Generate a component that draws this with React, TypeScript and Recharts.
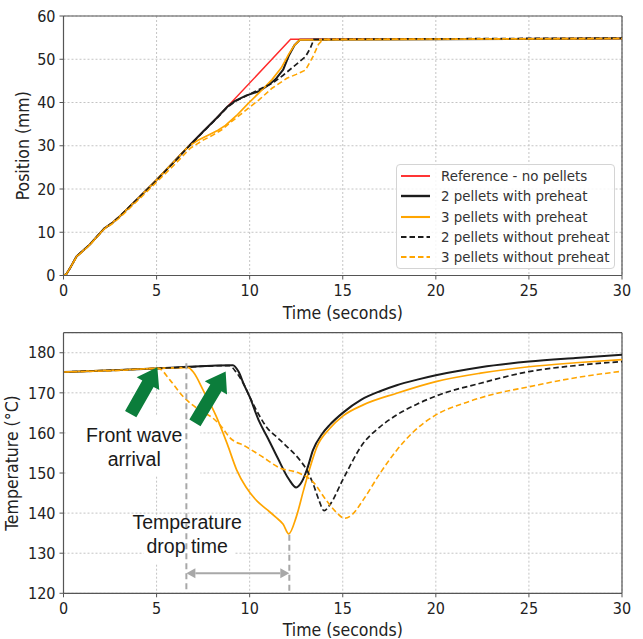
import React from "react";
import {
  LineChart,
  Line,
  XAxis,
  YAxis,
  CartesianGrid,
  ReferenceLine,
  ReferenceArea,
  ReferenceDot,
  Legend,
} from "recharts";

type Pt = { t: number; v: number };
const pts = (rows: number[][]): Pt[] => rows.map(([t, v]) => ({ t, v }));

// ---- ticks ----
const timeTicks = [0, 5, 10, 15, 20, 25, 30];
const posTicks = [0, 10, 20, 30, 40, 50, 60];
const tempTicks = [120, 130, 140, 150, 160, 170, 180];

// ---- position (mm) vs time (s) ----
const posReference = pts([
  [0, 0], [0.15, 0.3], [0.35, 1.7], [0.7, 4.4], [1.4, 7.1], [2.2, 10.9], [2.6, 12.1], [3, 13.6],
  [4, 17.8], [5, 22.1], [6, 26.6], [6.7, 29.8], [7.5, 33.3], [8.2, 36.3], [8.8, 39.0],
  [12.2, 54.6], [30, 54.8],
]);
const pos2Preheat = pts([
  [0, 0], [0.15, 0.3], [0.35, 1.7], [0.7, 4.4], [1.4, 7.1], [2.2, 10.9], [2.6, 12.1], [3, 13.6],
  [4, 17.8], [5, 22.1], [6, 26.6], [6.7, 29.8], [7.5, 33.3], [8.2, 36.3], [8.8, 39.0],
  [9.2, 40.3], [9.8, 41.6], [10.5, 42.6], [11.0, 44.0], [11.4, 45.4], [11.8, 47.6], [12.1, 50.8],
  [12.4, 53.2], [12.7, 54.5], [30, 54.8],
]);
const pos3Preheat = pts([
  [0, 0], [0.15, 0.3], [0.35, 1.7], [0.7, 4.4], [1.4, 7.1], [2.2, 10.9], [2.6, 12.1], [3, 13.6],
  [4, 17.8], [5, 22.1], [6, 26.6], [6.7, 29.8], [7.2, 31.2], [7.9, 32.7], [8.3, 33.6], [8.7, 34.7],
  [9.3, 37.0], [9.9, 39.7], [10.5, 42.2], [11.2, 45.3], [11.7, 48.0], [12.1, 51.2], [12.4, 53.2],
  [12.7, 54.5], [30, 54.8],
]);
const pos2NoPreheat = pts([
  [0, 0], [0.15, 0.3], [0.35, 1.7], [0.7, 4.4], [1.4, 7.1], [2.2, 10.9], [2.6, 12.1], [3, 13.6],
  [4, 17.8], [5, 22.0], [6, 26.5], [6.7, 29.7], [7.5, 33.2], [8.2, 36.2], [8.8, 38.9],
  [9.2, 40.2], [9.8, 41.5], [10.5, 43.0], [11.2, 44.4], [11.8, 46.3], [12.3, 48.1], [13.0, 50.6],
  [13.25, 52.5], [13.45, 54.6], [30, 54.9],
]);
const pos3NoPreheat = pts([
  [0, 0], [0.15, 0.3], [0.35, 1.7], [0.7, 4.3], [1.4, 7.0], [2.2, 10.8], [2.6, 11.9], [3, 13.3],
  [4, 17.4], [5, 21.6], [6, 25.8], [6.8, 29.4], [7.5, 31.3], [8, 32.4], [8.5, 33.7], [9, 35.5],
  [9.5, 37.2], [10, 38.9], [10.5, 40.6], [11.2, 43.3], [12, 45.6], [12.5, 46.5], [13.0, 47.5],
  [13.4, 50.6], [13.7, 53.5], [13.95, 54.6], [30, 54.8],
]);

// ---- temperature (°C) vs time (s) ----
const temp2Preheat = pts([
  [0, 175.2], [3, 175.7], [6, 176.3], [9.1, 176.9], [9.4, 175.3], [9.7, 172], [10, 169],
  [10.5, 163], [11, 158.5], [11.5, 153.8], [12.1, 148.5], [12.5, 146.4], [12.8, 147.8],
  [13.1, 151.2], [13.4, 155.7], [13.9, 159.8], [14.3, 162], [15, 165], [16, 168.3], [17, 170.4],
  [17.9, 171.9], [19, 173.3], [20, 174.4], [22.4, 176.4], [25, 177.8], [27.5, 178.7], [30, 179.5],
]);
const temp3Preheat = pts([
  [0, 175.2], [3, 175.7], [6.7, 176.3], [7.0, 175.0], [7.5, 170.7], [8.2, 164.2], [8.8, 157.2],
  [9.3, 150.8], [9.8, 146.5], [10.4, 143], [10.9, 141], [11.4, 139], [11.8, 137.2], [12.1, 134.8],
  [12.5, 139], [12.9, 145.8], [13.2, 150.7], [13.6, 156.4], [14.3, 161.1], [15, 164.2],
  [16.1, 167], [17.9, 169.9], [20, 172.8], [22.4, 174.9], [25, 176.5], [27.5, 177.5], [30, 178.3],
]);
const temp2NoPreheat = pts([
  [0, 175.2], [3, 175.7], [6, 176.3], [8.9, 176.8], [9.3, 175], [9.7, 172], [10, 169],
  [10.5, 164.5], [10.9, 161.5], [11.5, 158.8], [12, 156.6], [12.7, 153.2], [13.1, 150.5],
  [13.4, 147.4], [13.7, 143.5], [14.0, 140.6], [14.3, 142], [15, 148.3], [16.1, 157.4],
  [17, 161.5], [17.9, 164.5], [19, 167.2], [20, 169.2], [22.4, 172.4], [25, 175.3],
  [27.5, 176.8], [30, 177.8],
]);
const temp3NoPreheat = pts([
  [0, 175.2], [3, 175.6], [5.1, 176.1], [5.7, 173.3], [6.4, 169.2], [7.3, 165.7], [8.05, 163.6],
  [8.5, 161.5], [8.9, 159], [9.8, 156.6], [10.7, 154], [11.6, 151.3], [12.7, 149.9],
  [13.4, 147.8], [14.1, 143.3], [14.7, 140], [15.1, 138.7], [15.5, 139.6], [16.1, 143.3],
  [17, 149.9], [17.9, 155.7], [18.8, 160.3], [20, 164.5], [21.5, 167.4], [23.3, 169.9],
  [25, 171.5], [26.8, 173.2], [30, 175.4],
]);

const FONT = "'DejaVu Sans Condensed', 'DejaVu Sans', sans-serif";
const ANNOT_FONT = "'Liberation Sans', Arial, sans-serif";
const RED = "#ff2b2b";
const BLACK = "#1c1c1c";
const ORANGE = "#ffa500";
const GREEN = "#0b7d3b";
const GRAY = "#a8a8a8";
const SPINE = "#555";

const posSeries = [
  { name: "Reference - no pellets", data: posReference, color: RED, width: 1.5, dash: undefined },
  { name: "2 pellets with preheat", data: pos2Preheat, color: BLACK, width: 2, dash: undefined },
  { name: "3 pellets with preheat", data: pos3Preheat, color: ORANGE, width: 1.7, dash: undefined },
  { name: "2 pellets without preheat", data: pos2NoPreheat, color: BLACK, width: 1.7, dash: "5.5 3" },
  { name: "3 pellets without preheat", data: pos3NoPreheat, color: ORANGE, width: 1.6, dash: "5.5 3" },
];
const tempSeries = [
  { name: "2 pellets with preheat", data: temp2Preheat, color: BLACK, width: 2, dash: undefined },
  { name: "3 pellets with preheat", data: temp3Preheat, color: ORANGE, width: 1.7, dash: undefined },
  { name: "2 pellets without preheat", data: temp2NoPreheat, color: BLACK, width: 1.7, dash: "5.5 3" },
  { name: "3 pellets without preheat", data: temp3NoPreheat, color: ORANGE, width: 1.6, dash: "5.5 3" },
];

const tickStyle = { fill: "#222", fontSize: 16, fontFamily: FONT };

const XTitle = ({ viewBox, text, down }: any) => (
  <text x={viewBox.x + viewBox.width / 2} y={viewBox.y + down} textAnchor="middle"
    fill="#222" fontSize={17.5} fontFamily={FONT}>{text}</text>
);
const YTitle = ({ viewBox, text, base }: any) => {
  const cy = viewBox.y + viewBox.height / 2;
  return (
    <text x={base} y={cy} transform={`rotate(-90 ${base} ${cy})`} textAnchor="middle"
      fill="#222" fontSize={17.5} fontFamily={FONT}>{text}</text>
  );
};

const LegendBox = () => (
  <div style={{
    width: 219, height: 105, boxSizing: "border-box", border: "1px solid #d4d4d4",
    borderRadius: 4, background: "rgba(255,255,255,0.85)", paddingTop: 1,
  }}>
    {posSeries.map((s) => (
      <div key={s.name} style={{ height: 20.3, display: "flex", alignItems: "center" }}>
        <svg width={44} height={10} style={{ flex: "none" }}>
          <line x1={4} x2={33} y1={5} y2={5} stroke={s.color} strokeWidth={s.width + 0.4}
            strokeDasharray={s.dash} />
        </svg>
        <span style={{ fontFamily: FONT, fontSize: 14.9, color: "#333", whiteSpace: "nowrap" }}>{s.name}</span>
      </div>
    ))}
  </div>
);

const GreenArrow = (p: any) => {
  const { x1, y1, x2, y2 } = p;
  const dx = x2 - x1, dy = y2 - y1;
  const len = Math.hypot(dx, dy);
  const ux = dx / len, uy = dy / len, nx = -uy, ny = ux;
  const sw = 6.5, hw = 13, hl = 19;
  const bx = x2 - ux * hl, by = y2 - uy * hl;
  const q = [
    [x1 + nx * sw, y1 + ny * sw], [bx + nx * sw, by + ny * sw], [bx + nx * hw, by + ny * hw],
    [x2, y2], [bx - nx * hw, by - ny * hw], [bx - nx * sw, by - ny * sw], [x1 - nx * sw, y1 - ny * sw],
  ];
  return <polygon points={q.map((c) => c.join(",")).join(" ")} fill={GREEN} />;
};

const DoubleArrow = (p: any) => {
  const { x1, y1, x2, y2 } = p;
  const h = 9, w = 5;
  return (
    <g>
      <line x1={x1 + h} y1={y1} x2={x2 - h} y2={y2} stroke={GRAY} strokeWidth={2.2} />
      <polygon points={`${x1},${y1} ${x1 + h},${y1 - w} ${x1 + h},${y1 + w}`} fill={GRAY} />
      <polygon points={`${x2},${y2} ${x2 - h},${y2 - w} ${x2 - h},${y2 + w}`} fill={GRAY} />
    </g>
  );
};

const TwoLineText = (lines: string[]) => (p: any) => (
  <text x={p.cx} y={p.cy} textAnchor="middle" fill="#1a1a1a" fontSize={19.5} fontFamily={ANNOT_FONT}>
    {lines.map((l, i) => (
      <tspan key={l} x={p.cx} dy={i === 0 ? 7 : 24}>{l}</tspan>
    ))}
  </text>
);

export default function App() {
  return (
    <div style={{ position: "absolute", left: 0, top: 0, width: 643, height: 639, background: "#fff" }}>
      <div style={{ position: "absolute", left: 0, top: 0 }}>
        <LineChart width={643} height={326} margin={{ top: 16, right: 21, bottom: 0, left: 0 }}>
          <CartesianGrid stroke="#c4c4c4" strokeDasharray="2 2" />
          <XAxis type="number" dataKey="t" domain={[0, 30]} ticks={timeTicks} allowDataOverflow
            height={50.5} tick={tickStyle} tickSize={4} tickMargin={5}
            axisLine={{ stroke: SPINE, strokeWidth: 1.2 }} tickLine={{ stroke: SPINE }}
            label={<XTitle text="Time (seconds)" down={43.5} />} />
          <YAxis type="number" domain={[0, 60]} ticks={posTicks} allowDataOverflow width={63.5}
            tick={tickStyle} tickSize={4} tickMargin={4}
            axisLine={{ stroke: SPINE, strokeWidth: 1.2 }} tickLine={{ stroke: SPINE }}
            label={<YTitle text="Position (mm)" base={28.5} />} />
          <ReferenceLine y={60} stroke={SPINE} strokeWidth={1.2} />
          <ReferenceLine x={30} stroke={SPINE} strokeWidth={1.2} />
          {posSeries.map((s) => (
            <Line key={s.name} data={s.data} dataKey="v" name={s.name} type="linear" stroke={s.color}
              strokeWidth={s.width} strokeDasharray={s.dash} dot={false} isAnimationActive={false} />
          ))}
          <Legend layout="vertical" align="center" verticalAlign="middle" content={<LegendBox />}
            wrapperStyle={{ left: 396, top: 164, width: 219, height: 105 }} />
        </LineChart>
      </div>
      <div style={{ position: "absolute", left: 0, top: 320 }}>
        <LineChart width={643} height={319} margin={{ top: 12.7, right: 21, bottom: 0, left: 0 }}>
          <CartesianGrid stroke="#c4c4c4" strokeDasharray="2 2" />
          <XAxis type="number" dataKey="t" domain={[0, 30]} ticks={timeTicks} allowDataOverflow
            height={45.7} tick={tickStyle} tickSize={4} tickMargin={5}
            axisLine={{ stroke: SPINE, strokeWidth: 1.2 }} tickLine={{ stroke: SPINE }}
            label={<XTitle text="Time (seconds)" down={42.5} />} />
          <YAxis type="number" domain={[120, 185]} ticks={tempTicks} allowDataOverflow width={63.5}
            tick={tickStyle} tickSize={4} tickMargin={4}
            axisLine={{ stroke: SPINE, strokeWidth: 1.2 }} tickLine={{ stroke: SPINE }}
            label={<YTitle text="Temperature (°C)" base={17.5} />} />
          <ReferenceLine y={185} stroke={SPINE} strokeWidth={1.2} />
          <ReferenceLine x={30} stroke={SPINE} strokeWidth={1.2} />
          <ReferenceArea x1={0.2} x2={7.35} y1={149.3} y2={164.5} fill="#fff" fillOpacity={1} stroke="none" />
          <ReferenceArea x1={4.3} x2={9.2} y1={127.5} y2={139} fill="#fff" fillOpacity={1} stroke="none" />
          {tempSeries.map((s) => (
            <Line key={s.name} data={s.data} dataKey="v" name={s.name} type="monotone" stroke={s.color}
              strokeWidth={s.width} strokeDasharray={s.dash} dot={false} isAnimationActive={false} />
          ))}
          <ReferenceLine segment={[{ x: 6.6, y: 177.4 }, { x: 6.6, y: 120 }]} stroke={GRAY}
            strokeWidth={2} strokeDasharray="6 4" />
          <ReferenceLine segment={[{ x: 12.13, y: 134.6 }, { x: 12.13, y: 120 }]} stroke={GRAY}
            strokeWidth={2} strokeDasharray="6 4" />
          <ReferenceLine segment={[{ x: 6.6, y: 125 }, { x: 12.13, y: 125 }]} shape={DoubleArrow} />
          <ReferenceLine segment={[{ x: 3.61, y: 164.7 }, { x: 5.04, y: 176.4 }]} shape={GreenArrow} />
          <ReferenceLine segment={[{ x: 7.06, y: 162.5 }, { x: 8.71, y: 175.3 }]} shape={GreenArrow} />
          <ReferenceDot x={3.8} y={159.5} r={0} shape={TwoLineText(["Front wave", "arrival"])} />
          <ReferenceDot x={6.64} y={137.9} r={0} shape={TwoLineText(["Temperature", "drop time"])} />
        </LineChart>
      </div>
    </div>
  );
}
